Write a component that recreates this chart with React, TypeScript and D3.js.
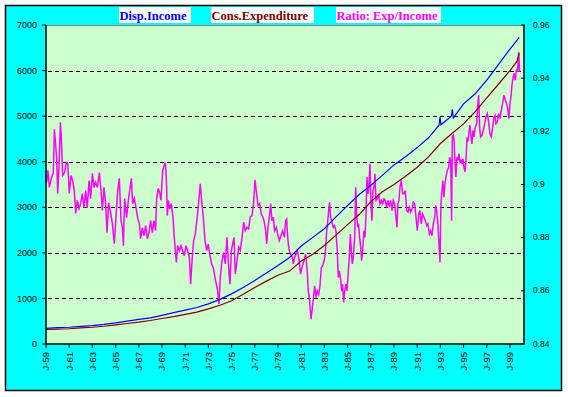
import React from 'react';
import * as d3 from 'd3';

// Disposable income and consumption expenditure (left axis), decimal years
const incomeYears = [1959, 1960, 1961, 1962, 1963, 1964, 1965, 1966, 1967, 1968, 1969, 1970, 1971, 1972, 1973, 1974, 1975, 1976, 1977, 1978, 1979, 1980, 1981, 1982, 1983, 1984, 1985, 1986, 1987, 1988, 1989, 1990, 1991, 1992, 1992.88, 1992.97, 1993.05, 1993.95, 1994.03, 1994.12, 1995, 1996, 1997, 1998, 1999, 1999.8]
const incomeValues = [345, 358, 368, 388, 405, 430, 462, 500, 540, 575, 630, 690, 745, 800, 880, 980, 1100, 1240, 1395, 1560, 1725, 1900, 2150, 2340, 2530, 2790, 3040, 3280, 3480, 3700, 3930, 4110, 4310, 4530, 4800, 4980, 4810, 5000, 5150, 4960, 5270, 5490, 5790, 6130, 6470, 6729]

const expenditureYears = [1959, 1960, 1961, 1962, 1963, 1964, 1965, 1966, 1967, 1968, 1969, 1970, 1971, 1972, 1973, 1974, 1975, 1976, 1977, 1978, 1979, 1980, 1981, 1982, 1983, 1984, 1985, 1986, 1987, 1988, 1989, 1990, 1991, 1992, 1993, 1994, 1995, 1996, 1997, 1998, 1999, 1999.6, 1999.8]
const expenditureValues = [318, 328, 335, 352, 368, 390, 418, 450, 478, 515, 560, 600, 650, 700, 770, 850, 950, 1090, 1240, 1380, 1510, 1600, 1820, 1970, 2160, 2390, 2620, 2840, 3120, 3340, 3500, 3680, 3880, 4110, 4400, 4620, 4830, 5100, 5400, 5700, 6000, 6200, 6377]

// Ratio Exp/Income (right axis)
const ratioYears = [
  1959.06, 1959.17, 1959.29, 1959.46, 1959.63, 1959.72, 1959.80, 1959.92, 1960.01, 1960.12, 1960.24, 1960.32, 1960.44, 1960.61, 1960.75, 1960.87,
  1961.01, 1961.16, 1961.30, 1961.44, 1961.56, 1961.70, 1961.85, 1961.99, 1962.13, 1962.28, 1962.42, 1962.56, 1962.71, 1962.85, 1963.00, 1963.14,
  1963.28, 1963.43, 1963.60, 1963.74, 1963.86, 1964.00, 1964.14, 1964.26, 1964.40, 1964.55, 1964.72, 1964.89, 1965.03, 1965.18, 1965.32, 1965.47,
  1965.58, 1965.67, 1965.78, 1965.95, 1966.10, 1966.24, 1966.36, 1966.47, 1966.62, 1966.76, 1966.90, 1967.05, 1967.16, 1967.31, 1967.45, 1967.59,
  1967.74, 1967.88, 1968.02, 1968.17, 1968.31, 1968.45, 1968.54, 1968.68, 1968.80, 1968.91, 1969.06, 1969.23,
  1969.29, 1969.34, 1969.40, 1969.46, 1969.55, 1969.66, 1969.80, 1969.95, 1970.06, 1970.15, 1970.24, 1970.35, 1970.49, 1970.64, 1970.78, 1970.92,
  1971.07, 1971.21, 1971.36, 1971.47, 1971.59, 1971.73, 1971.87, 1972.02, 1972.16, 1972.30, 1972.42, 1972.56, 1972.71, 1972.85, 1972.99, 1973.14,
  1973.28, 1973.42, 1973.57, 1973.68, 1973.80, 1973.91, 1974.03, 1974.17, 1974.32, 1974.46, 1974.60, 1974.75, 1974.86, 1974.98, 1975.09, 1975.21,
  1975.32, 1975.47, 1975.61, 1975.75, 1975.90, 1976.04, 1976.18, 1976.33, 1976.47, 1976.61, 1976.76, 1976.90, 1977.02, 1977.16, 1977.28, 1977.42,
  1977.56, 1977.71, 1977.82, 1977.94, 1978.02, 1978.14, 1978.25, 1978.37, 1978.48, 1978.60, 1978.71, 1978.86, 1978.97, 1979.11, 1979.26, 1979.40,
  1979.55, 1979.66, 1979.75, 1979.80, 1979.89, 1979.98, 1980.09, 1980.24, 1980.32, 1980.44, 1980.55, 1980.67, 1980.81, 1980.95, 1981.10, 1981.24,
  1981.38, 1981.53, 1981.61, 1981.70, 1981.79, 1981.85, 1981.96, 1982.05, 1982.16, 1982.28, 1982.39, 1982.51, 1982.62, 1982.74, 1982.85, 1982.97,
  1983.08, 1983.20, 1983.28, 1983.37, 1983.45, 1983.54, 1983.65, 1983.77, 1983.88, 1984.00, 1984.11, 1984.20, 1984.29, 1984.40, 1984.49, 1984.57,
  1984.66, 1984.75, 1984.86, 1984.95, 1985.03, 1985.15, 1985.24, 1985.32, 1985.41, 1985.49, 1985.61, 1985.70, 1985.78, 1985.87, 1985.95, 1986.04,
  1986.13, 1986.21, 1986.30, 1986.41, 1986.50, 1986.59, 1986.67, 1986.76, 1986.84, 1986.93, 1987.02, 1987.10, 1987.19, 1987.28, 1987.36, 1987.45,
  1987.56, 1987.68, 1987.79, 1987.91, 1988.02, 1988.14, 1988.25, 1988.37, 1988.48, 1988.60, 1988.71, 1988.83, 1988.94, 1989.06, 1989.17, 1989.26,
  1989.34, 1989.43, 1989.52, 1989.63, 1989.75, 1989.86, 1989.98, 1990.09, 1990.21, 1990.32, 1990.44, 1990.55, 1990.67, 1990.78, 1990.90, 1991.01,
  1991.13, 1991.24, 1991.36, 1991.47, 1991.59, 1991.70, 1991.82, 1991.93, 1992.05, 1992.16, 1992.28, 1992.39, 1992.51, 1992.59, 1992.68, 1992.79,
  1992.88, 1992.97, 1993.05, 1993.14, 1993.22, 1993.31, 1993.40, 1993.48, 1993.60, 1993.71, 1993.80, 1993.89, 1993.97, 1994.03, 1994.12, 1994.17,
  1994.26, 1994.34, 1994.43, 1994.52, 1994.60, 1994.69, 1994.78, 1994.86, 1994.95, 1995.03, 1995.12, 1995.21, 1995.29, 1995.38, 1995.47, 1995.55,
  1995.64, 1995.72, 1995.81, 1995.90, 1996.01, 1996.13, 1996.21, 1996.30, 1996.39, 1996.47, 1996.59, 1996.70, 1996.82, 1996.93, 1997.05, 1997.16,
  1997.28, 1997.39, 1997.51, 1997.62, 1997.71, 1997.79, 1997.91, 1998.02, 1998.14, 1998.25, 1998.37, 1998.48, 1998.60, 1998.71, 1998.83, 1998.91,
  1999.00, 1999.09, 1999.17, 1999.26, 1999.34, 1999.46, 1999.57, 1999.66, 1999.75, 1999.83,
]
const ratioValues = [
  .9009, .9053, .8989, .9023, .9045, .9208, .9166, .9098, .8966, .9064, .9234, .9177, .9034, .9045, .9083, .9083,
  .8966, .9034, .9015, .8977, .8891, .8940, .8909, .8928, .8966, .8913, .8977, .8913, .9015, .8947, .9042, .8989,
  .9008, .8989, .9045, .8977, .8902, .8989, .8928, .8819, .8932, .8902, .8853, .8777, .8875, .8977, .9023, .8864,
  .8838, .8770, .8947, .8875, .8940, .8985, .9023, .8928, .8947, .8913, .8875, .8853, .8796, .8838, .8808, .8845,
  .8796, .8819, .8864, .8819, .8864, .8826, .8947, .8985, .8970, .8940, .9053, .9079,
  .9078, .9053, .8990, .8883, .8940, .8908, .8928, .8877, .8801, .8751, .8707, .8770, .8751, .8770, .8751, .8732,
  .8770, .8751, .8726, .8625, .8713, .8789, .8814, .8870, .8933, .9003, .8940, .8877, .8789, .8751, .8776, .8732,
  .8701, .8688, .8650, .8625, .8600, .8550, .8650, .8713, .8745, .8701, .8801, .8688, .8625, .8751, .8776, .8801,
  .8663, .8713, .8764, .8751, .8801, .8858, .8826, .8839, .8833, .8877, .8883, .8933, .9018, .8965, .8921, .8928,
  .8889, .8877, .8858, .8826, .8776, .8839, .8877, .8928, .8864, .8877, .8826, .8839, .8814, .8789, .8808, .8826,
  .8801, .8864, .8870, .8826, .8776, .8751, .8738, .8726, .8701, .8726, .8738, .8751, .8719, .8663, .8694, .8713,
  .8738, .8669, .8600, .8575, .8525, .8493, .8537, .8569, .8619, .8575, .8600, .8587, .8619, .8688, .8694, .8713,
  .8738, .8826, .8858, .8902, .8933, .8877, .8858, .8839, .8845, .8826, .8751, .8650, .8675, .8644, .8600, .8625,
  .8556, .8600, .8625, .8600, .8650, .8726, .8814, .8751, .8701, .8726, .8801, .8990, .8889, .8839, .8852, .8801,
  .8764, .8713, .8751, .8826, .8801, .8889, .9028, .8965, .8990, .9078, .8927, .8864, .8977, .8990, .9040, .8940,
  .8946, .8965, .8927, .8940, .8927, .8946, .8940, .8914, .8940, .8921, .8940, .8902, .8940, .8927, .8877, .8839,
  .8927, .8940, .8990, .9015, .8965, .8965, .8977, .8902, .8896, .8914, .8896, .8908, .8933, .8927, .8877, .8826,
  .8889, .8902, .8852, .8889, .8877, .8864, .8845, .8852, .8814, .8826, .8808, .8852, .8877, .8921, .8902, .8852,
  .8776, .8707, .8927, .8977, .9015, .8952, .9003, .9028, .9053, .9065, .9103, .9091, .8864, .9179, .9185, .9172,
  .9091, .9028, .9103, .9091, .9116, .9084, .9091, .9078, .9097, .9065, .9047, .9091, .9172, .9166, .9197, .9223,
  .9179, .9153, .9204, .9179, .9216, .9229, .9292, .9336, .9210, .9179, .9185, .9204, .9229, .9254, .9267, .9235,
  .9191, .9179, .9216, .9254, .9260, .9229, .9235, .9267, .9248, .9279, .9304, .9336, .9317, .9304, .9279, .9248,
  .9304, .9330, .9374, .9399, .9418, .9392, .9436, .9424, .9499, .9424,
]

const leftTicks = [0, 1000, 2000, 3000, 4000, 5000, 6000, 7000]
const rightTicks = [0.84, 0.86, 0.88, 0.9, 0.92, 0.94, 0.96]
const rightTickLabels = ['0.84', '0.86', '0.88', '0.9', '0.92', '0.94', '0.96']
const xTickYears = [1959, 1961, 1963, 1965, 1967, 1969, 1971, 1973, 1975, 1977, 1979, 1981, 1983, 1985, 1987, 1989, 1991, 1993, 1995, 1997, 1999]

const legendItems = [
  { label: 'Disp.Income', color: '#0000FF', x: 119, w: 72 },
  { label: 'Cons.Expenditure', color: '#800000', x: 211, w: 103 },
  { label: 'Ratio: Exp/Income', color: '#FF00FF', x: 336, w: 105 },
]

const W = 568
const H = 397
const plot = { left: 46, right: 524, top: 25, bottom: 344 }
const axisFont = 'Liberation Sans, Arial, sans-serif'

const App = () => {
  const x = d3.scaleLinear().domain([1959, 2000.21]).range([plot.left, plot.right])
  const yLeft = d3.scaleLinear().domain([0, 7000]).range([plot.bottom, plot.top])
  const yRight = d3.scaleLinear().domain([0.84, 0.96]).range([plot.bottom, plot.top])

  const lineOf = (years: number[], scale: d3.ScaleLinear<number, number>) =>
    d3
      .line<number>()
      .x((_, i) => x(years[i]))
      .y((d) => scale(d))

  const incomePath = lineOf(incomeYears, yLeft)(incomeValues) || ''
  const expPath = lineOf(expenditureYears, yLeft)(expenditureValues) || ''
  const ratioPath = lineOf(ratioYears, yRight)(ratioValues) || ''

  return (
    <svg
      width={W}
      height={H}
      style={{ position: 'absolute', left: 0, top: 0, background: '#fff' }}
    >
      {/* outer frame */}
      <rect x={5.5} y={5.5} width={556} height={385} fill="#00FFFF" stroke="#000" strokeWidth={1.5} />

      {/* plot area */}
      <rect x={plot.left} y={plot.top} width={plot.right - plot.left} height={plot.bottom - plot.top} fill="#CCFFCC" />
      <line x1={plot.left} x2={plot.right} y1={plot.top + 0.5} y2={plot.top + 0.5} stroke="#808080" />

      {/* grid */}
      {leftTicks.slice(1, -1).map((t) => (
        <line
          key={'g' + t}
          x1={plot.left + 2}
          x2={plot.right}
          y1={Math.round(yLeft(t)) + 0.5}
          y2={Math.round(yLeft(t)) + 0.5}
          stroke="#000"
          strokeDasharray="4 3"
        />
      ))}

      {/* series */}
      <path d={ratioPath} fill="none" stroke="#FF00FF" strokeWidth={1.5} />
      <path d={expPath} fill="none" stroke="#800000" strokeWidth={1.2} />
      <path d={incomePath} fill="none" stroke="#0000FF" strokeWidth={1.2} />

      {/* axes */}
      <line x1={plot.left} x2={plot.left} y1={plot.top} y2={plot.bottom} stroke="#000" strokeWidth={1.5} />
      <line x1={plot.right} x2={plot.right} y1={plot.top} y2={plot.bottom} stroke="#000" strokeWidth={1.5} />
      <line x1={plot.left} x2={plot.right} y1={plot.bottom} y2={plot.bottom} stroke="#000" strokeWidth={1.5} />

      {/* left axis */}
      {leftTicks.map((t) => (
        <g key={'l' + t}>
          <line x1={plot.left - 4} x2={plot.left} y1={yLeft(t)} y2={yLeft(t)} stroke="#000" />
          <text x={37} y={yLeft(t)} dy="0.35em" textAnchor="end" fontFamily={axisFont} fontSize={9}>
            {t}
          </text>
        </g>
      ))}

      {/* right axis */}
      {rightTicks.map((t, i) => (
        <g key={'r' + t}>
          <line x1={plot.right - 3} x2={plot.right + 1} y1={yRight(t)} y2={yRight(t)} stroke="#000" />
          <text x={533} y={yRight(t)} dy="0.3em" textAnchor="start" fontFamily={axisFont} fontSize={8.5}>
            {rightTickLabels[i]}
          </text>
        </g>
      ))}

      {/* x axis */}
      {xTickYears.map((yr) => (
        <g key={'x' + yr}>
          <line x1={x(yr)} x2={x(yr)} y1={plot.bottom} y2={plot.bottom + 4} stroke="#000" />
          <text
            transform={`translate(${x(yr)},${plot.bottom + 8}) rotate(-90)`}
            dy="0.35em"
            textAnchor="end"
            fontFamily={axisFont}
            fontSize={9.5}
          >
            {'J-' + String(yr).slice(2)}
          </text>
        </g>
      ))}

      {/* legend */}
      {legendItems.map((d) => (
        <g key={d.label}>
          <rect x={d.x} y={7} width={d.w} height={16} fill="#fff" />
          <text
            x={d.x + 0.5}
            y={19.5}
            fill={d.color}
            fontFamily="Liberation Serif, Times New Roman, serif"
            fontWeight="bold"
            fontSize={12.5}
          >
            {d.label}
          </text>
        </g>
      ))}
    </svg>
  )
}

export default App
